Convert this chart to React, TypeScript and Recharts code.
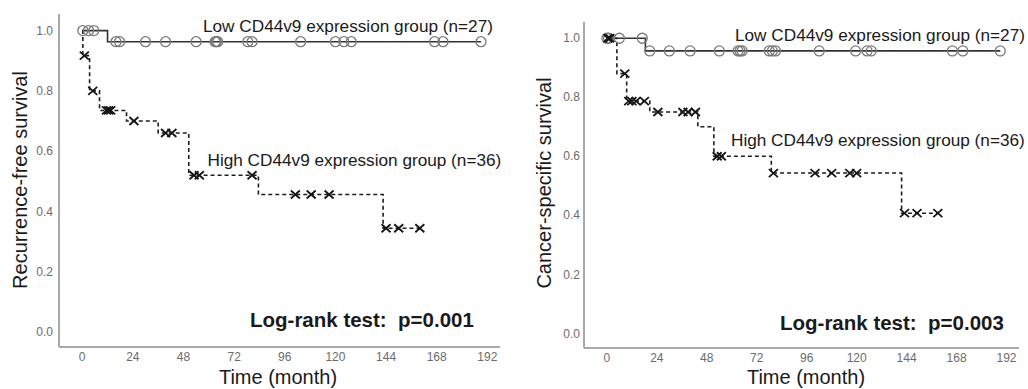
import React from 'react';
import { ComposedChart, Line, Scatter, XAxis, YAxis } from 'recharts';

const xTicks = [0, 24, 48, 72, 96, 120, 144, 168, 192];
const yTicks = [0, 0.2, 0.4, 0.6, 0.8, 1.0];

// Left panel: recurrence-free survival
const rfsLowStepTimes = [0, 12, 189];
const rfsLowStepSurv = [1, 0.963, 0.963];
const rfsLowCensorTimes = [0.3, 3, 5.5, 16, 17.7, 30, 39.5, 54, 63, 63.6, 64.2, 78.5, 80.5, 103.5, 120, 124, 127.5, 167, 171, 189];
const rfsHighStepTimes = [0, 0.3, 3.5, 8.2, 21, 36, 50.5, 83.5, 142.6, 160];
const rfsHighStepSurv = [1, 0.917, 0.8, 0.735, 0.7, 0.66, 0.52, 0.456, 0.344, 0.344];
const rfsHighCensorTimes = [1, 5, 11.5, 12.5, 13.5, 24.5, 39.5, 42.5, 53, 55.5, 80.5, 101, 108.5, 117, 144, 150, 160];

// Right panel: cancer-specific survival
const cssLowStepTimes = [0, 18.5, 189];
const cssLowStepSurv = [1, 0.957, 0.957];
const cssLowCensorTimes = [0, 0.8, 6, 17, 20.6, 30, 40, 54, 63, 64, 65, 78, 79.5, 81, 102, 119.5, 125, 127, 166, 171, 189];
const cssHighStepTimes = [0, 4.8, 9.5, 20.6, 43.7, 51.4, 79, 141.6, 159];
const cssHighStepSurv = [1, 0.88, 0.787, 0.75, 0.7, 0.6, 0.543, 0.407, 0.407];
const cssHighCensorTimes = [0.5, 1.4, 8.6, 10.5, 12, 14, 18, 24.5, 36.5, 39, 42.5, 53, 55, 80, 100, 108, 116.7, 120, 143, 149, 159];

const steps = (times: number[], surv: number[]) => times.map((t, i) => ({ t, s: surv[i] }));
const survAt = (times: number[], surv: number[], t: number) => {
  let v = surv[0];
  for (let i = 0; i < times.length; i++) if (times[i] <= t) v = surv[i];
  return v;
};
const censors = (ct: number[], times: number[], surv: number[]) =>
  ct.map((t) => ({ t, s: survAt(times, surv, t) }));

const FONT = '"Liberation Sans", Arial, sans-serif';

const CircleMark = (props: any) => {
  const { cx, cy } = props;
  if (cx == null || cy == null) return <g />;
  return <circle cx={cx} cy={cy} r={5} fill="none" stroke="#7a7a7a" strokeWidth={1.3} />;
};
const CrossMark = (props: any) => {
  const { cx, cy } = props;
  if (cx == null || cy == null) return <g />;
  const dx = 4.5, dy = 4;
  return (
    <path
      d={`M${cx - dx},${cy - dy}L${cx + dx},${cy + dy}M${cx - dx},${cy + dy}L${cx + dx},${cy - dy}`}
      stroke="#151515"
      strokeWidth={1.8}
      fill="none"
    />
  );
};

type PanelProps = {
  width: number;
  yAxisWidth: number;
  margin: { top: number; right: number; bottom: number; left: number };
  ytickSize: number;
  low: { t: number; s: number }[];
  lowC: { t: number; s: number }[];
  high: { t: number; s: number }[];
  highC: { t: number; s: number }[];
};

const axisStroke = { stroke: '#a9a9a9', strokeWidth: 2 };
const tickStyle = { fill: '#6b6b6b', fontSize: 12, fontFamily: FONT };

const Panel = ({ width, yAxisWidth, margin, ytickSize, low, lowC, high, highC }: PanelProps) => (
  <ComposedChart width={width} height={389} margin={margin}>
    <XAxis
      dataKey="t"
      type="number"
      domain={[-11, 198]}
      ticks={xTicks}
      allowDataOverflow
      axisLine={axisStroke}
      tickLine={false}
      tickSize={5}
      tickMargin={0}
      height={30}
      tick={tickStyle}
      interval={0}
    />
    <YAxis
      type="number"
      domain={[-0.05, 1.055]}
      ticks={yTicks}
      allowDataOverflow
      axisLine={axisStroke}
      tickLine={false}
      tickSize={ytickSize}
      tickMargin={0}
      width={yAxisWidth}
      tick={tickStyle}
      interval={0}
      tickFormatter={(v: number) => v.toFixed(1)}
    />
    <Line data={low} dataKey="s" type="stepAfter" stroke="#333333" strokeWidth={1.6} dot={false} isAnimationActive={false} />
    <Line data={high} dataKey="s" type="stepAfter" stroke="#1e1e1e" strokeWidth={1.6} strokeDasharray="4 3" dot={false} isAnimationActive={false} />
    <Scatter data={lowC} dataKey="s" shape={CircleMark} isAnimationActive={false} />
    <Scatter data={highC} dataKey="s" shape={CrossMark} isAnimationActive={false} />
  </ComposedChart>
);

export default function App() {
  const rfsLow = steps(rfsLowStepTimes, rfsLowStepSurv);
  const rfsHigh = steps(rfsHighStepTimes, rfsHighStepSurv);
  const cssLow = steps(cssLowStepTimes, cssLowStepSurv);
  const cssHigh = steps(cssHighStepTimes, cssHighStepSurv);
  return (
    <div style={{ position: 'absolute', left: 0, top: 0, width: 1028, height: 389, background: '#fff', fontFamily: FONT }}>
      <div style={{ position: 'absolute', left: 0, top: 0 }}>
        <Panel
          width={520}
          yAxisWidth={59}
          margin={{ top: 14, right: 20, bottom: 12, left: 0 }}
          ytickSize={6}
          low={rfsLow}
          lowC={censors(rfsLowCensorTimes, rfsLowStepTimes, rfsLowStepSurv)}
          high={rfsHigh}
          highC={censors(rfsHighCensorTimes, rfsHighStepTimes, rfsHighStepSurv)}
        />
      </div>
      <div style={{ position: 'absolute', left: 520, top: 0 }}>
        <Panel
          width={508}
          yAxisWidth={64}
          margin={{ top: 22, right: 9, bottom: 11, left: 0 }}
          ytickSize={4}
          low={cssLow}
          lowC={censors(cssLowCensorTimes, cssLowStepTimes, cssLowStepSurv)}
          high={cssHigh}
          highC={censors(cssHighCensorTimes, cssHighStepTimes, cssHighStepSurv)}
        />
      </div>
      <svg width={1028} height={389} style={{ position: 'absolute', left: 0, top: 0, pointerEvents: 'none' }}>
        <g fontFamily={FONT} fill="#1a1a1a">
          <text x={203} y={32} fontSize={17.2}>Low CD44v9 expression group (n=27)</text>
          <text x={207.5} y={165.5} fontSize={17.2}>High CD44v9 expression group (n=36)</text>
          <text x={735} y={40.5} fontSize={17.2}>Low CD44v9 expression group (n=27)</text>
          <text x={731} y={146} fontSize={17.2}>High CD44v9 expression group (n=36)</text>
          <text x={250} y={327} fontSize={20.5} fontWeight="bold" style={{ whiteSpace: 'pre' }}>{'Log-rank test:  p=0.001'}</text>
          <text x={780} y={329.5} fontSize={20.5} fontWeight="bold" style={{ whiteSpace: 'pre' }}>{'Log-rank test:  p=0.003'}</text>
          <text x={278} y={384} fontSize={20} textAnchor="middle">Time (month)</text>
          <text x={806} y={384} fontSize={20} textAnchor="middle">Time (month)</text>
          <text transform="translate(27,180) rotate(-90)" fontSize={20} textAnchor="middle">Recurrence-free survival</text>
          <text transform="translate(551,183) rotate(-90)" fontSize={20} textAnchor="middle">Cancer-specific survival</text>
        </g>
      </svg>
    </div>
  );
}
